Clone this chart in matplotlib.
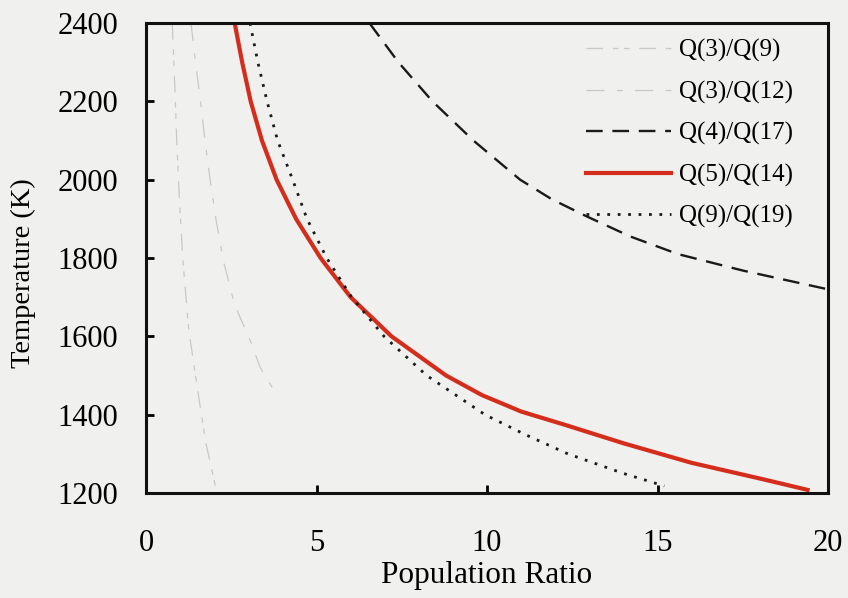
import numpy as np
import matplotlib
matplotlib.use('Agg')
import matplotlib.pyplot as plt

plt.rcParams['font.family'] = ['Liberation Serif', 'DejaVu Serif']
plt.rcParams['lines.scale_dashes'] = False

# values (population ratio vs temperature)
q3_q9_x = [0.77, 0.84, 0.9, 0.98, 1.08, 1.25, 1.5, 1.75, 2.08]
q3_q9_T = [2400, 2250, 2100, 1950, 1796, 1620, 1471, 1330, 1200]

q3_q12_x = [1.32, 1.45, 1.6, 1.73, 1.88, 2.05, 2.26, 2.6, 3.05, 3.35, 3.7]
q3_q12_T = [2400, 2300, 2200, 2100, 2000, 1900, 1796, 1680, 1591, 1520, 1470]

q4_q17_x = [6.55, 7.4, 8.4, 9.6, 10.97, 11.9, 12.93, 14.2, 15.6, 17.5, 20.0]
q4_q17_T = [2400, 2300, 2200, 2100, 2000, 1950, 1906, 1855, 1810, 1768, 1720]

q5_q14_x = [2.6, 2.82, 3.07, 3.4, 3.83, 4.4, 5.12, 6.0, 7.2, 8.8, 9.85, 10.4, 11.0, 12.25, 14.0, 16.0, 18.1, 19.4]
q5_q14_T = [2400, 2300, 2200, 2100, 2000, 1900, 1800, 1700, 1600, 1500, 1450, 1430, 1408, 1375, 1327, 1277, 1235, 1208]

q9_q19_x = [3.05, 3.28, 3.55, 3.86, 4.3, 4.72, 5.3, 6.03, 6.98, 8.23, 9.94, 11.1, 12.37, 14.0, 15.2]
q9_q19_T = [2400, 2300, 2200, 2100, 2000, 1900, 1800, 1700, 1600, 1500, 1400, 1350, 1300, 1250, 1218]

bg = '#f0f0ee'
fig = plt.figure(figsize=(8.48, 5.98), dpi=100, facecolor=bg)
ax = fig.add_axes([146/848, 1-493/598, (828-146)/848, (493-23)/598])
ax.set_facecolor(bg)

ax.plot(q3_q9_x, q3_q9_T, color='#c8c8c8', lw=0.9, dashes=(12, 7, 4, 4, 4, 7), label='Q(3)/Q(9)')
ax.plot(q3_q12_x, q3_q12_T, color='#c8c8c8', lw=0.9, dashes=(13, 9, 4, 9), label='Q(3)/Q(12)')
ax.plot(q4_q17_x, q4_q17_T, color='#1a1a1a', lw=1.7, dashes=(12, 7), label='Q(4)/Q(17)')
ax.plot(q5_q14_x, q5_q14_T, color='#d42d1c', lw=3, label='Q(5)/Q(14)')
ax.plot(q9_q19_x, q9_q19_T, color='#1a1a1a', lw=2, dashes=(2, 5.5), label='Q(9)/Q(19)')

ax.set_xlim(0, 20)
ax.set_ylim(1200, 2400)
ax.set_xticks([0, 5, 10, 15, 20])
ax.set_yticks(np.arange(1200, 2401, 200))
ax.tick_params(direction='in', length=6, width=2, labelsize=22, top=False, right=False)
ax.tick_params(axis='x', pad=26)
ax.tick_params(axis='y', pad=20)
for s in ax.spines.values():
    s.set_linewidth(2.2)
    s.set_color('#111111')

ax.set_xlabel('Population Ratio', fontsize=22.5)
ax.set_ylabel('Temperature (K)', fontsize=20.5)
ax.xaxis.set_label_coords(0.5, -0.145)
ax.yaxis.set_label_coords(-0.162, 0.468)

ax.legend(loc='upper left', bbox_to_anchor=(586/848, 1-39/598), bbox_transform=fig.transFigure,
          frameon=False, fontsize=18, handlelength=3.4, handletextpad=0.3,
          labelspacing=0.74, borderpad=0, borderaxespad=0)

fig.savefig('out.png', dpi=100, facecolor=bg)
